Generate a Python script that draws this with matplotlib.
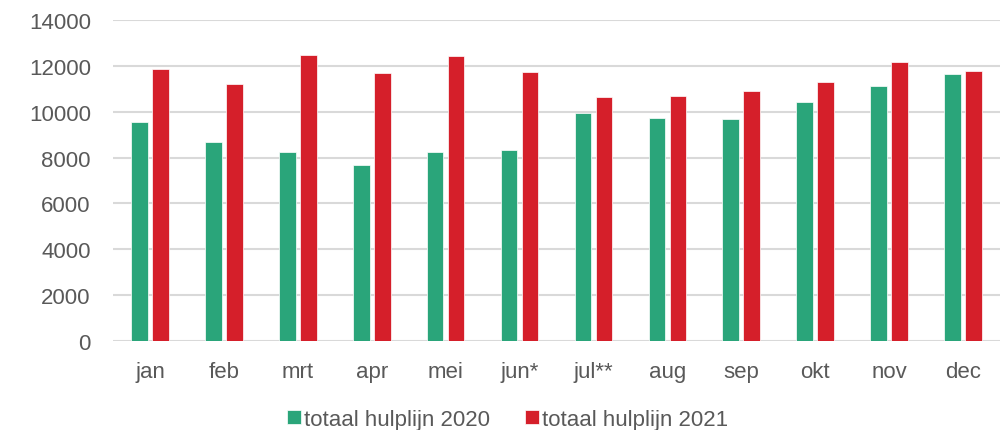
import numpy as np
import matplotlib
matplotlib.use("Agg")
import matplotlib.pyplot as plt

months = ["jan", "feb", "mrt", "apr", "mei", "jun*", "jul**", "aug", "sep", "okt", "nov", "dec"]
hulplijn_2020 = [9550, 8680, 8240, 7690, 8230, 8330, 9960, 9730, 9680, 10440, 11120, 11640]
hulplijn_2021 = [11880, 11210, 12470, 11680, 12430, 11720, 10630, 10670, 10890, 11280, 12150, 11760]
yticks = [0, 2000, 4000, 6000, 8000, 10000, 12000, 14000]

plt.rcParams['font.family'] = ['Liberation Sans', 'DejaVu Sans']
grey = '#595959'

fig = plt.figure(figsize=(10.05, 4.31), dpi=100)
ax = fig.add_axes([113 / 1005, 1 - 342 / 431, 887 / 1005, 321 / 431])

x = np.arange(len(months))
w = 0.225
ax.bar(x - 0.142, hulplijn_2020, w, color='#2AA57A', edgecolor='white', linewidth=0.5,
       label='totaal hulplijn 2020', zorder=3)
ax.bar(x + 0.142, hulplijn_2021, w, color='#D51F2A', edgecolor='white', linewidth=0.5,
       label='totaal hulplijn 2021', zorder=3)

ax.set_xlim(-0.5, len(months) - 0.5)
ax.set_ylim(0, 14000)
ax.set_yticks(yticks)
ax.set_xticks(x)
ax.set_xticklabels(months)
ax.yaxis.grid(True, color='#D9D9D9', linewidth=1.5, zorder=0)
ax.set_axisbelow(True)
for s in ax.spines.values():
    s.set_visible(False)
ax.tick_params(axis='both', length=0, labelsize=16, colors=grey)
ax.tick_params(axis='x', pad=14.5)
ax.tick_params(axis='y', pad=16)

leg = ax.legend(loc='center', bbox_to_anchor=(0.445, -0.245), ncol=2, frameon=False,
                fontsize=16, handlelength=0.6, handleheight=0.6, handletextpad=0.15,
                columnspacing=1.6, borderpad=0, borderaxespad=0)
for t in leg.get_texts():
    t.set_color(grey)

fig.savefig('out.png', dpi=100)
